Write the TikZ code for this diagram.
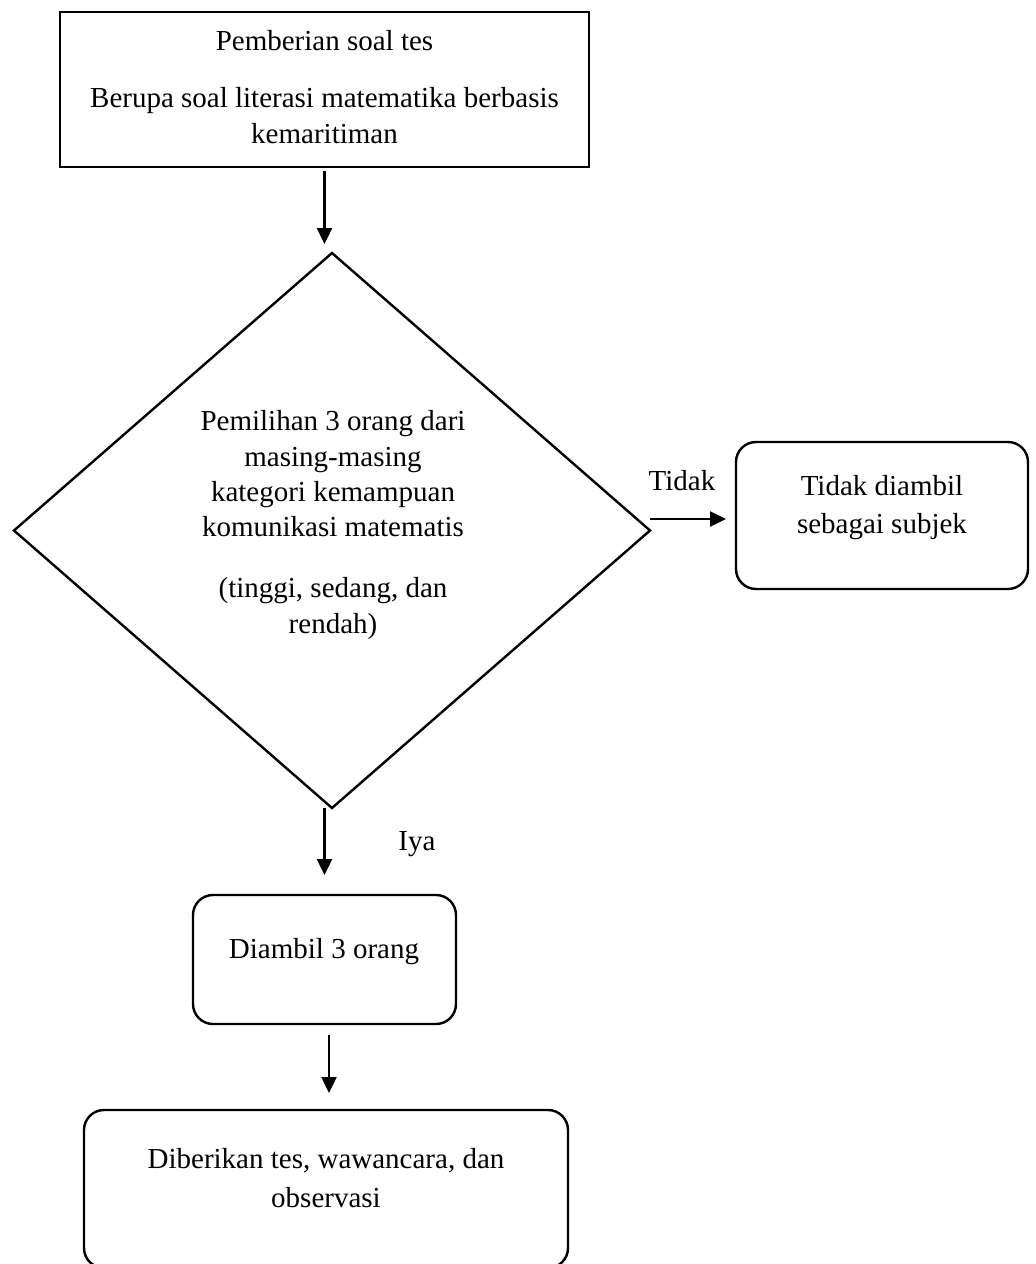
\documentclass[tikz,border=0pt]{standalone}
\usepackage{fontspec}
\setmainfont{Liberation Serif}
\usetikzlibrary{shapes.geometric,arrows.meta,calc}
\begin{document}
\begin{tikzpicture}[x=1pt,y=-1pt,
  box/.style={draw,line width=2.4pt,inner sep=0pt,outer sep=0pt},
  rbox/.style={box,rounded corners=20pt},
  txt/.style={align=center,inner sep=0pt,font=\fontsize{29}{36}\selectfont},
  lbl/.style={inner sep=0pt,anchor=base,font=\fontsize{29}{36}\selectfont},
  arr/.style={line width=2.4pt,-{Triangle[length=16pt,width=15pt]}}]
\useasboundingbox (0,0) rectangle (1036,1264);
% boxes
\node[box,minimum width=529pt,minimum height=155pt] (b1) at (324.5,89.5) {};
\node[txt] (t1) at (324.5,89.3) {\strut Pemberian soal tes\\[21pt] Berupa soal literasi matematika berbasis\\ kemaritiman\strut};
\node[draw,diamond,line width=2.4pt,minimum width=636pt,minimum height=555pt,inner sep=0pt,outer sep=0pt] (d) at (332,530.5) {};
\node[txt,font=\fontsize{29}{35.4}\selectfont] (t2) at (333,524.9) {\strut Pemilihan 3 orang dari\\ masing-masing\\ kategori kemampuan\\ komunikasi matematis\\[25.6pt] (tinggi, sedang, dan\\ rendah)\strut};
\node[rbox,minimum width=292pt,minimum height=147pt] (rb) at (882,515.5) {};
\node[txt,font=\fontsize{29}{38}\selectfont] (t3) at (882,506.4) {\strut Tidak diambil\\ sebagai subjek\strut};
\node[rbox,minimum width=263pt,minimum height=129pt] (b4) at (324.5,959.5) {};
\node[txt] (t4) at (324,950.8) {\strut Diambil 3 orang\strut};
\node[rbox,minimum width=484pt,minimum height=158pt] (b5) at (326,1189) {};
\node[txt,font=\fontsize{29}{39}\selectfont] (t5) at (326,1179.7) {\strut Diberikan tes, wawancara, dan\\ observasi\strut};
% labels
\node[lbl] (lt) at (682,490) {Tidak};
\node[lbl] (li) at (417,850) {Iya};
% connectors
\draw[arr,shorten <=4pt,shorten >=9pt] (b1.south) -- (b1.south |- d.north);
\coordinate (tA) at ([yshift=11.5pt]d.east);
\draw[arr,shorten >=10pt] (tA) -- (tA -| rb.west);
\draw[arr,shorten >=20pt] (d.south -| b4.north) -- (b4.north);
\coordinate (a4s) at ([xshift=4.5pt]b4.south);
\draw[arr,shorten <=11pt,shorten >=17pt] (a4s) -- (a4s |- b5.north);
\end{tikzpicture}
\end{document}
